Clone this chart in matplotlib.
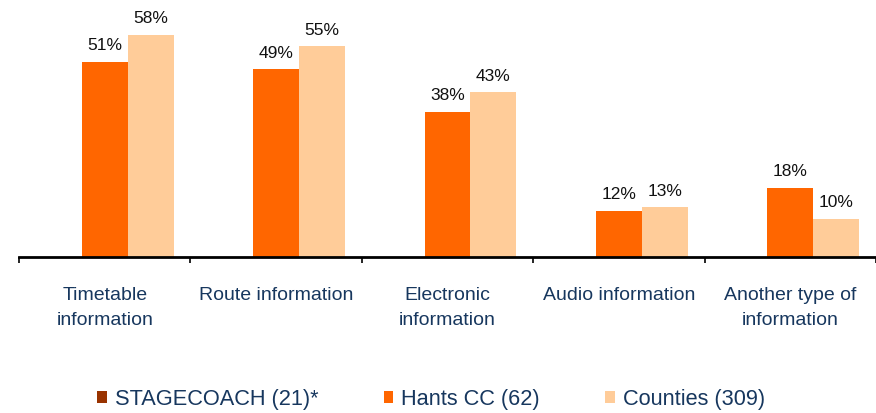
import numpy as np
import matplotlib
matplotlib.use('Agg')
import matplotlib.pyplot as plt

plt.rcParams['font.family'] = ['Liberation Sans', 'DejaVu Sans']

categories = ['Timetable\ninformation', 'Route information', 'Electronic\ninformation',
              'Audio information', 'Another type of\ninformation']
series_names = ['STAGECOACH (21)*', 'Hants CC (62)', 'Counties (309)']
stagecoach = [np.nan, np.nan, np.nan, np.nan, np.nan]
hants = [51, 49, 38, 12, 18]
counties = [58, 55, 43, 13, 10]

colors = ['#993300', '#FF6600', '#FFCC99']
text_blue = '#17375E'

fig = plt.figure(figsize=(8.76, 4.14), dpi=100)
ax = fig.add_axes([19 / 876, 1 - 258 / 414, 1 - 19 / 876, 258 / 414])

x = np.arange(len(categories))
w = 0.268
for i, (vals, name, col) in enumerate(zip([stagecoach, hants, counties], series_names, colors)):
    bars = ax.bar(x + (i - 1) * w, vals, w, color=col, label=name, linewidth=0)
    for b, v in zip(bars, vals):
        if np.isnan(v):
            continue
        ax.annotate(f'{v:.0f}%', (b.get_x() + b.get_width() / 2, v), xytext=(0, 7),
                    textcoords='offset points', ha='center', va='bottom',
                    fontsize=12.5, color='#111111')

ax.set_xlim(-0.5, len(categories) - 0.5)
ax.set_ylim(0, 67.4)

for s in ['top', 'right', 'left']:
    ax.spines[s].set_visible(False)
ax.spines['bottom'].set_linewidth(2)
ax.set_yticks([])

ax.set_xticks(x)
ax.set_xticklabels(categories, fontsize=14, color=text_blue, linespacing=1.6)
ax.tick_params(axis='x', which='major', length=0, pad=21)
ax.set_xticks(np.arange(len(categories) + 1) - 0.5, minor=True)
ax.tick_params(axis='x', which='minor', length=4, width=1.2, color='black')

leg = fig.legend(loc='center', bbox_to_anchor=(431 / 876, 1 - 400 / 414), ncol=3,
                 frameon=False, fontsize=15.7, handlelength=0.45, handleheight=0.45,
                 handletextpad=0.35, columnspacing=3.0)
for t in leg.get_texts():
    t.set_color(text_blue)

fig.savefig('out.png', dpi=100)
